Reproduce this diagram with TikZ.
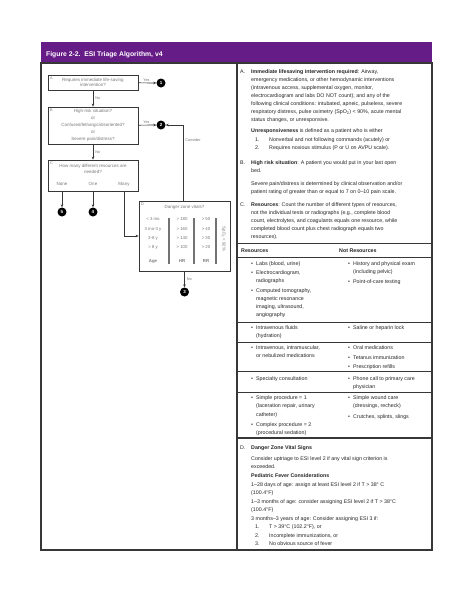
\documentclass[tikz,border=0pt]{standalone}
\usepackage{fontspec}
\setmainfont{Liberation Sans}
\usetikzlibrary{arrows.meta}
\definecolor{esipurple}{RGB}{102,28,134}
\definecolor{framegray}{RGB}{55,55,55}
\definecolor{fctext}{RGB}{120,120,120}
\newcommand{\mlt}[1]{\begin{tabular}[t]{@{}l@{}}#1\end{tabular}}
\begin{document}
\begin{tikzpicture}[x=1pt,y=-1pt,
  rt/.style={anchor=base west,inner sep=0pt,font=\fontsize{5.3}{8}\selectfont,text=black!85},
  fbox/.style={draw=framegray,line width=0.8pt,inner sep=0pt,fill=white},
  ft/.style={inner sep=0pt,font=\fontsize{4.5}{5.5}\selectfont,text=fctext,align=center},
  dt/.style={inner sep=0pt,font=\fontsize{4.3}{5}\selectfont,text=fctext},
  fl/.style={inner sep=0pt,font=\fontsize{3.8}{4}\selectfont,text=fctext},
  circ/.style={circle,fill=black,text=white,inner sep=0pt,minimum size=9pt,font=\fontsize{4.5}{5}\selectfont\bfseries},
  conn/.style={draw=framegray,line width=0.7pt,-{Stealth[length=3pt,width=2.6pt]}},
  tl/.style={draw=framegray,line width=1pt},
  bar/.style={draw=black!55,line width=1.4pt}]
\useasboundingbox (0,0) rectangle (474,613);
\fill[white] (0,0) rectangle (474,613);
% header
\fill[esipurple] (41,42) rectangle (432,63);
\node[anchor=base west,inner sep=0pt,text=white,font=\fontsize{6.8}{8}\selectfont\bfseries] (title) at (46,56) {Figure 2-2.\ \ ESI Triage Algorithm, v4};
% frame
\draw[framegray,line width=1.2pt] (41,63) rectangle (432,550);
\draw[framegray,line width=1.2pt] (237,63) -- (237,550);

% ---------------- flowchart ----------------
\node[fbox,minimum width=90pt,minimum height=15pt,ft] (A) at (93,82.5) {Requires immediate life-saving\\intervention?};
\node[fl,anchor=north west] (Alab) at (50,76.5) {A};
\node[fbox,minimum width=90pt,minimum height=37pt,ft,font=\fontsize{4.5}{7}\selectfont] (B) at (93,125.5) {High-risk situation?\\or\\Confused/lethargic/disoriented?\\or\\Severe pain/distress?};
\node[fl,anchor=north west] (Blab) at (50,108.5) {B};
\node[fbox,minimum width=90pt,minimum height=31pt] (C) at (93,175.5) {};
\node[fl,anchor=north west] (Clab) at (50,161.5) {C};
\node[ft] (Ctext) at (93,169) {How many different resources are\\needed?};
\node[ft] (none) at (62,184) {None};
\node[ft] (one) at (93,184) {One};
\node[ft] (many) at (124,184) {Many};
\node[fbox,minimum width=91pt,minimum height=70pt] (D) at (184.5,236) {};
\node[fl,anchor=north west] (Dlab) at (141,202.5) {D};
\node[ft] (Dtext) at (184.5,207.5) {Danger zone vitals?};
% D table
\node[dt] (ag1) at (153,219.5) {< 3 mo};
\node[dt] (ag2) at (153,229) {3 mo-3 y};
\node[dt] (ag3) at (153,238) {3-8 y};
\node[dt] (ag4) at (153,247) {> 8 y};
\node[dt,font=\fontsize{4.3}{5}\selectfont\bfseries] (ag5) at (153,261) {Age};
\node[dt] (hr1) at (182,219.5) {> 180};
\node[dt] (hr2) at (182,229) {> 160};
\node[dt] (hr3) at (182,238) {> 140};
\node[dt] (hr4) at (182,247) {> 100};
\node[dt,font=\fontsize{4.3}{5}\selectfont\bfseries] (hr5) at (182,261) {HR};
\node[dt] (rr1) at (206,219.5) {> 50};
\node[dt] (rr2) at (206,229) {> 40};
\node[dt] (rr3) at (206,238) {> 30};
\node[dt] (rr4) at (206,247) {> 20};
\node[dt,font=\fontsize{4.3}{5}\selectfont\bfseries] (rr5) at (206,261) {RR};
\node[dt,rotate=-90] (spo) at (223.5,239) {SpO\textsubscript{2} < 92\%};
\draw[bar] (169,218) -- (169,264);
\draw[bar] (194,218) -- (194,264);
\draw[bar] (216,218) -- (216,264);
% circles
\node[circ] (c1) at (161,83) {1};
\node[circ] (c2) at (161,125) {2};
\node[circ] (c5) at (62,212) {5};
\node[circ] (c4) at (93,212) {4};
\node[circ] (c3) at (184.5,292) {3};
% connectors
\draw[conn] (A) -- (c1) node[fl,pos=0.45,above=1.2pt] (yes1) {Yes};
\draw[conn] (A) -- (B) node[fl,midway,right=2pt] (no1) {No};
\draw[conn] (B) -- (c2) node[fl,pos=0.45,above=1.2pt] (yes2) {Yes};
\draw[conn] (B) -- (C) node[fl,midway,right=2pt] (no2) {No};
\draw[conn] (none |- C.south) -- (c5);
\draw[conn] (one |- C.south) -- (c4);
\draw[conn] (many |- C.south) |- (D.west);
\draw[conn] ([xshift=-1.5pt]D.north) |- (c2) node[fl,pos=0.4,right=2pt] (cons) {Consider};
\draw[conn] (D) -- (c3) node[fl,midway,right=2pt] (no3) {No};

% ---------------- right panel ----------------
\node[rt] (la) at (240,73) {A.};
\node[rt] (ta) at (251,73) {\mlt{\textbf{Immediate lifesaving intervention required}: Airway,\\
emergency medications, or other hemodynamic interventions\\
(intravenous access, supplemental oxygen, monitor,\\
electrocardiogram and labs DO NOT count); and any of the\\
following clinical conditions: intubated, apneic, pulseless, severe\\
respiratory distress, pulse oximetry (SpO\textsubscript{2}) < 90\%, acute mental\\
status changes, or unresponsive.}};
\node[rt] (tu) at (251,132) {\textbf{Unresponsiveness} is defined as a patient who is either};
\node[rt] (u1n) at (255,141) {1.};
\node[rt] (u1) at (269,141) {Nonverbal and not following commands (acutely) or};
\node[rt] (u2n) at (255,149) {2.};
\node[rt] (u2) at (269,149) {Requires noxious stimulus (P or U on AVPU scale).};
\node[rt] (lb) at (240,164) {B.};
\node[rt] (tb) at (251,164) {\mlt{\textbf{High risk situation}: A patient you would put in your last open\\bed.}};
\node[rt] (tb2) at (251,185) {\mlt{Severe pain/distress is determined by clinical observation and/or\\patient rating of greater than or equal to 7 on 0--10 pain scale.}};
\node[rt] (lc) at (240,206) {C.};
\node[rt] (tc) at (251,206) {\mlt{\textbf{Resources}: Count the number of different types of resources,\\
not the individual tests or radiographs (e.g., complete blood\\
count, electrolytes, and coagulants equals one resource, while\\
completed blood count plus chest radiograph equals two\\
resources).}};
% table
\draw[tl] (237,243) -- (432,243);
\node[rt,font=\fontsize{5.3}{8}\selectfont\bfseries] (hres) at (241,252) {Resources};
\node[rt,font=\fontsize{5.3}{8}\selectfont\bfseries] (hnot) at (339,252) {Not Resources};
\draw[tl] (237,257) -- (432,257);
% row 1
\node[rt] (b11) at (251,265) {•};  \node[rt] (r11) at (256,265) {Labs (blood, urine)};
\node[rt] (b12) at (251,274) {•};  \node[rt] (r12) at (256,274) {\mlt{Electrocardiogram,\\radiographs}};
\node[rt] (b13) at (251,292) {•};  \node[rt,font=\fontsize{5.3}{8.3}\selectfont] (r13) at (256,292) {\mlt{Computed tomography,\\magnetic resonance\\imaging, ultrasound,\\angiography}};
\node[rt] (n11b) at (348,265) {•}; \node[rt] (n11) at (353,265) {\mlt{History and physical exam\\(including pelvic)}};
\node[rt] (n12b) at (348,283) {•}; \node[rt] (n12) at (353,283) {Point-of-care testing};
\draw[tl] (237,322) -- (432,322);
% row 2
\node[rt] (b21) at (251,329) {•};  \node[rt] (r21) at (256,329) {\mlt{Intravenous fluids\\(hydration)}};
\node[rt] (n21b) at (348,329) {•}; \node[rt] (n21) at (353,329) {Saline or heparin lock};
\draw[tl] (237,342) -- (432,342);
% row 3
\node[rt] (b31) at (251,349) {•};  \node[rt] (r31) at (256,349) {\mlt{Intravenous, intramuscular,\\or nebulized medications}};
\node[rt] (n31b) at (348,349) {•}; \node[rt] (n31) at (353,349) {Oral medications};
\node[rt] (n32b) at (348,359) {•}; \node[rt] (n32) at (353,359) {Tetanus immunization};
\node[rt] (n33b) at (348,368) {•}; \node[rt] (n33) at (353,368) {Prescription refills};
\draw[tl] (237,371) -- (432,371);
% row 4
\node[rt] (b41) at (251,380) {•};  \node[rt] (r41) at (256,380) {Specialty consultation};
\node[rt] (n41b) at (348,380) {•}; \node[rt] (n41) at (353,380) {\mlt{Phone call to primary care\\physician}};
\draw[tl] (237,392) -- (432,392);
% row 5
\node[rt] (b51) at (251,399) {•};  \node[rt,font=\fontsize{5.3}{8.5}\selectfont] (r51) at (256,399) {\mlt{Simple procedure = 1\\(laceration repair, urinary\\catheter)}};
\node[rt] (b52) at (251,426) {•};  \node[rt] (r52) at (256,426) {\mlt{Complex procedure = 2\\(procedural sedation)}};
\node[rt] (n51b) at (348,399) {•}; \node[rt] (n51) at (353,399) {\mlt{Simple wound care\\(dressings, recheck)}};
\node[rt] (n52b) at (348,418) {•}; \node[rt] (n52) at (353,418) {Crutches, splints, slings};
\draw[framegray,line width=1.3pt] (237,438) -- (432,438);
% D
\node[rt] (ld) at (240,449) {D.};
\node[rt] (td) at (251,449) {\textbf{Danger Zone Vital Signs}};
\node[rt,font=\fontsize{5.3}{8.5}\selectfont] (td2) at (251,460) {\mlt{Consider uptriage to ESI level 2 if any vital sign criterion is\\exceeded.}};
\node[rt] (td3) at (251,477) {\textbf{Pediatric Fever Considerations}};
\node[rt,font=\fontsize{5.3}{8.5}\selectfont] (td4) at (251,486) {\mlt{1--28 days of age: assign at least ESI level 2 if T > 38° C\\
(100.4°F)\\
1--3 months of age: consider assigning ESI level 2 if T > 38°C\\
(100.4°F)\\
3 months--3 years of age: Consider assigning ESI 3 if:}};
\node[rt] (f1n) at (255,528) {1.}; \node[rt] (f1) at (269,528) {T > 39°C (102.2°F), or};
\node[rt] (f2n) at (255,537) {2.}; \node[rt] (f2) at (269,537) {Incomplete immunizations, or};
\node[rt] (f3n) at (255,545) {3.}; \node[rt] (f3) at (269,545) {No obvious source of fever};
\end{tikzpicture}
\end{document}
